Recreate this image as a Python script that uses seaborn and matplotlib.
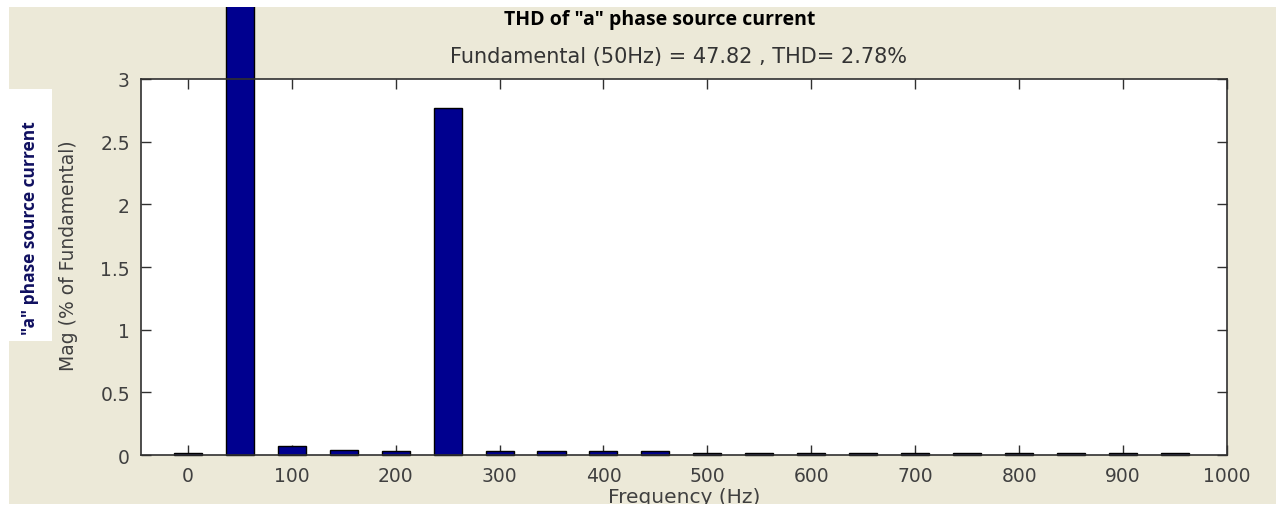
import matplotlib
matplotlib.use("Agg")
import matplotlib.pyplot as plt
import seaborn as sns
from matplotlib.patches import Rectangle

# Harmonic spectrum of the phase-a source current (% of fundamental)
freqs_hz = [0, 50, 100, 150, 200, 250, 300, 350, 400, 450,
            500, 550, 600, 650, 700, 750, 800, 850, 900, 950]
mag_pct = [0.02, 100.0, 0.07, 0.04, 0.03, 2.77, 0.03, 0.03, 0.03, 0.03,
           0.02, 0.015, 0.015, 0.015, 0.015, 0.015, 0.015, 0.015, 0.015, 0.015]
x_ticks = [0, 100, 200, 300, 400, 500, 600, 700, 800, 900, 1000]
y_ticks = [0, 0.5, 1, 1.5, 2, 2.5, 3]
y_tick_labels = ["0", "0.5", "1", "1.5", "2", "2.5", "3"]

title_text = 'THD of "a" phase source current'
subtitle_text = "Fundamental (50Hz) = 47.82 , THD= 2.78%"
side_label = '"a" phase source current'

BG = "#ECE9D8"
BAR = "#00008F"
TXT = "#404040"

sns.set_theme(style="white")
plt.rcParams["font.family"] = ["DejaVu Sans"]

fig = plt.figure(figsize=(12.76, 5.06), dpi=100, facecolor=BG)
ax = fig.add_axes([0.1105, 0.0988, 0.8511, 0.7431])
ax.set_facecolor("white")

sns.barplot(x=freqs_hz, y=mag_pct, native_scale=True, width=0.54,
            color=BAR, saturation=1, edgecolor="black", linewidth=1.0, ax=ax)
for p in ax.patches:
    p.set_clip_on(False)
    p.set_zorder(3)

ax.set_xlim(-45, 1000)
ax.set_ylim(0, 3)
ax.set_xticks(x_ticks)
ax.set_xticklabels([str(t) for t in x_ticks])
ax.set_yticks(y_ticks)
ax.set_yticklabels(y_tick_labels)
ax.tick_params(direction="in", length=7, width=1, colors="#303030",
               labelcolor=TXT, labelsize=13.5, top=True, right=True,
               left=True, bottom=True, pad=8)
for s in ax.spines.values():
    s.set_visible(True)
    s.set_color("#303030")
    s.set_linewidth(1.2)
    s.set_zorder(4)

ax.set_xlabel("Frequency (Hz)", fontsize=14.5, color=TXT, labelpad=1)
ax.set_ylabel("Mag (% of Fundamental)", fontsize=13.5, color=TXT)
ax.yaxis.set_label_coords(-0.058, 0.532)

fig.text(660 / 1276, 1 - 20 / 506, title_text, ha="center", va="center",
         fontsize=14, fontweight="bold", color="black",
         family=["Open Sans", "DejaVu Sans"])
fig.text(678 / 1276, 1 - 57 / 506, subtitle_text, ha="center", va="center",
         fontsize=15, color="#333333")

# White side panel carrying the rotated label
fig.patches.append(Rectangle((8 / 1276, 1 - 342 / 506), 44 / 1276, 252 / 506,
                             transform=fig.transFigure, facecolor="white",
                             edgecolor="none", zorder=5))
fig.text(30 / 1276, 1 - 228 / 506, side_label, rotation=90, ha="center",
         va="center", fontsize=12.5, fontweight="bold", color="#101060",
         family=["Open Sans", "DejaVu Sans"], zorder=6)

# Thin white frame on the top and left edges of the figure
fig.patches.append(Rectangle((0, 1 - 8 / 506), 1, 8 / 506, transform=fig.transFigure,
                             facecolor="white", edgecolor="none", zorder=10))
fig.patches.append(Rectangle((0, 0), 9 / 1276, 1, transform=fig.transFigure,
                             facecolor="white", edgecolor="none", zorder=10))
fig.patches.append(Rectangle((0, 0), 1, 1 / 506, transform=fig.transFigure,
                             facecolor="white", edgecolor="none", zorder=10))

fig.savefig("out.png", dpi=100, facecolor=BG)
